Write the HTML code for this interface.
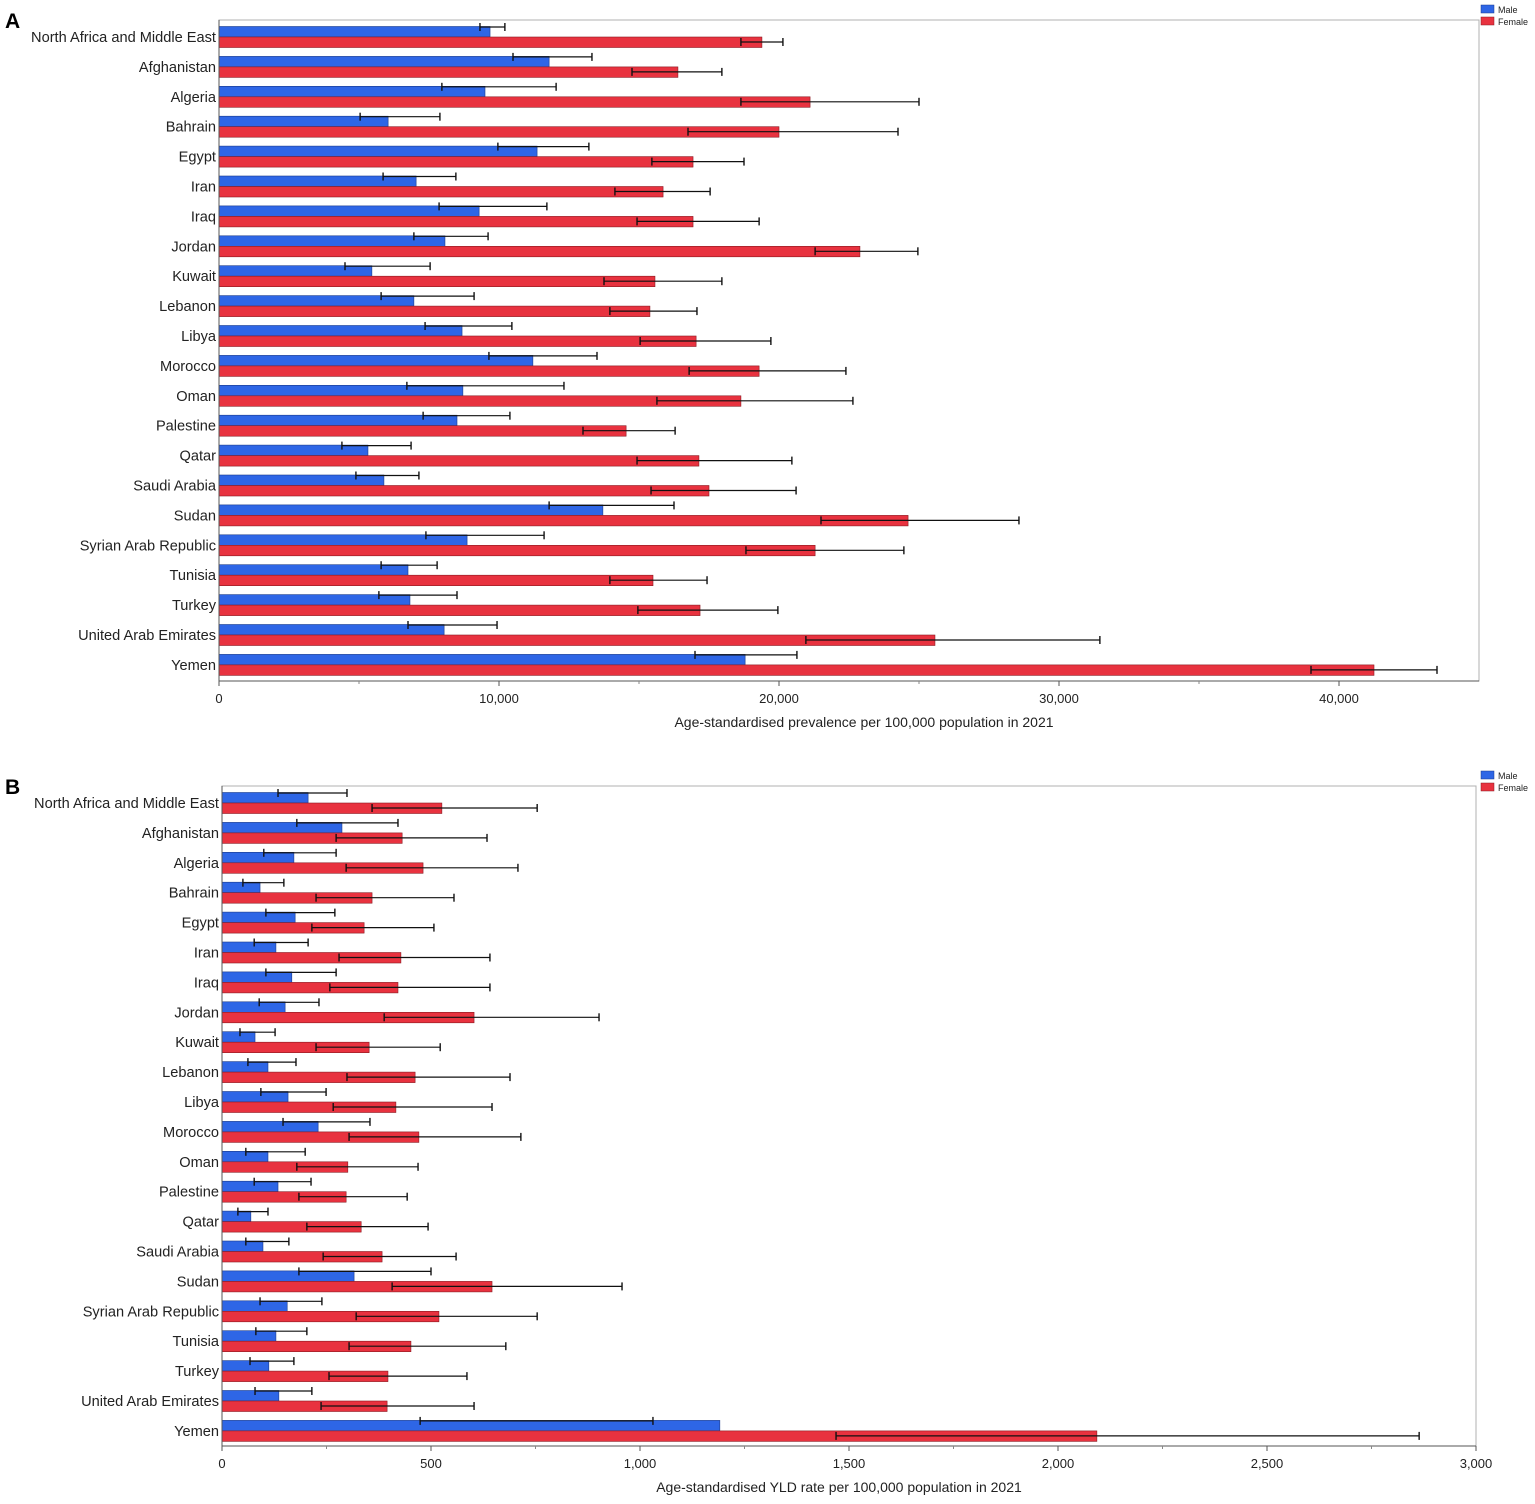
<!DOCTYPE html>
<html><head><meta charset="utf-8"><style>
body{margin:0;background:#fff;font-family:"Liberation Sans",Arial,sans-serif}
svg{display:block}
</style></head><body>
<svg id="chart" width="1535" height="1504" xmlns="http://www.w3.org/2000/svg"></svg>
<script>
const categories=["North Africa and Middle East","Afghanistan","Algeria","Bahrain","Egypt","Iran","Iraq","Jordan","Kuwait","Lebanon","Libya","Morocco","Oman","Palestine","Qatar","Saudi Arabia","Sudan","Syrian Arab Republic","Tunisia","Turkey","United Arab Emirates","Yemen"];
const prevMale=[9680,11790,9500,6040,11360,7040,9290,8070,5460,6960,8680,11210,8710,8500,5320,5890,13710,8860,6750,6820,8040,18790];
const prevMaleLo=[9320,10500,7960,5040,9960,5860,7860,6960,4500,5790,7360,9640,6710,7290,4390,4890,11790,7390,5790,5710,6750,17000];
const prevMaleHi=[10210,13320,12040,7890,13210,8460,11710,9610,7540,9110,10460,13500,12320,10390,6860,7140,16250,11610,7790,8500,9930,20640];
const prevFemale=[19390,16390,21110,20000,16930,15860,16930,22890,15570,15390,17040,19290,18640,14540,17140,17500,24610,21290,15500,17180,25570,41250];
const prevFemaleLo=[18640,14750,18640,16750,15460,14140,14930,21290,13750,13960,15040,16790,15640,13000,14930,15430,21500,18820,13960,14960,20960,39000];
const prevFemaleHi=[20140,17960,25000,24250,18750,17540,19290,24960,17960,17070,19710,22390,22640,16290,20460,20610,28570,24460,17430,19960,31460,43500];
const prevTicks=[0,10000,20000,30000,40000];
const yldMale=[206,287,172,91,175,129,167,151,79,110,158,230,110,134,69,98,316,156,129,112,136,1191];
const yldMaleLo=[134,179,100,50,105,77,105,89,43,62,93,146,57,77,38,57,184,91,81,67,79,474];
const yldMaleHi=[299,421,273,148,270,206,273,232,127,177,249,354,199,213,110,160,500,239,203,172,215,1031];
const yldFemale=[526,431,481,359,340,428,421,603,352,462,416,471,301,297,333,383,646,519,452,397,395,2093];
const yldFemaleLo=[359,273,297,225,215,280,258,388,225,299,266,304,179,184,203,242,407,321,304,256,237,1469];
const yldFemaleHi=[754,634,708,555,507,641,641,902,522,689,646,715,469,443,493,560,957,754,679,586,603,2864];
const yldTicks=[0,500,1000,1500,2000,2500,3000];

const svg=document.getElementById('chart');
const NS='http://www.w3.org/2000/svg';
function mk(tag,attrs,parent,text){const e=document.createElementNS(NS,tag);for(const k in attrs)e.setAttribute(k,attrs[k]);if(text!==undefined)e.textContent=text;parent.appendChild(e);return e;}
function fmt(v){return v.toLocaleString('en-US');}

function panel(cfg){
  const g=mk('g',{},svg);
  
  
  const x=v=>cfg.x0+(v/cfg.max)*(cfg.x1-cfg.x0);
  const rowY=i=>cfg.firstY+i*cfg.step;
  const frame=mk('rect',{x:cfg.x0,y:cfg.y0,width:cfg.x1-cfg.x0,height:cfg.y1-cfg.y0,fill:'none',stroke:'#b0b0b0','stroke-width':1},g);
  
  const lab=mk('text',{x:5,y:cfg.y0+8,'font-size':21,'font-weight':'bold',fill:'#000'},g,cfg.letter);
  
  function errbar(lo,hi,y,gp){
    mk('line',{x1:x(lo),x2:x(hi),y1:y,y2:y,stroke:'#111','stroke-width':1.2},gp);
    mk('line',{x1:x(lo),x2:x(lo),y1:y-4,y2:y+4,stroke:'#111','stroke-width':1.4},gp);
    mk('line',{x1:x(hi),x2:x(hi),y1:y-4,y2:y+4,stroke:'#111','stroke-width':1.4},gp);
  }
  categories.forEach((c,i)=>{
    const cy=rowY(i);
    const t=mk('text',{x:cfg.x0-3,y:cy+5,'text-anchor':'end','font-size':14.6,fill:'#222'},g,c);
    
    const bm=mk('rect',{x:x(0),y:cy-10.5,width:x(cfg.m[i])-x(0),height:10.5,fill:'#2e66e6',stroke:'#1a3a8a','stroke-width':0.6},g);
    
    const bf=mk('rect',{x:x(0),y:cy,width:x(cfg.f[i])-x(0),height:10.5,fill:'#e8323f',stroke:'#8a1a22','stroke-width':0.6},g);
    
    const eg=mk('g',{},g);
    
    errbar(cfg.mlo[i],cfg.mhi[i],cy-10,eg);
    errbar(cfg.flo[i],cfg.fhi[i],cy+5,eg);
  });
  mk('line',{x1:cfg.x0,x2:cfg.x0,y1:cfg.y0,y2:cfg.y1,stroke:'#555','stroke-width':1},g);
  mk('line',{x1:cfg.x0,x2:cfg.x1,y1:cfg.y1,y2:cfg.y1,stroke:'#555','stroke-width':1},g);
  cfg.ticks.forEach(v=>{
    mk('line',{x1:x(v),x2:x(v),y1:cfg.y1,y2:cfg.y1+5,stroke:'#555'},g);
    const t=mk('text',{x:x(v),y:cfg.y1+22,'text-anchor':'middle','font-size':13,fill:'#222'},g,fmt(v));
    
  });
  for(let k=0;k<cfg.ticks.length-1;k++){const v=(cfg.ticks[k]+cfg.ticks[k+1])/2;mk('line',{x1:x(v),x2:x(v),y1:cfg.y1,y2:cfg.y1+3,stroke:'#888'},g);}
  const at=mk('text',{x:(cfg.x0+cfg.x1)/2+(cfg.letter==='A'?15:-10),y:cfg.y1+46,'text-anchor':'middle','font-size':14,fill:'#222'},g,cfg.title);
  
  const lg=mk('g',{},g);
  
  const ly=cfg.y0-15;
  const s1=mk('rect',{x:1481,y:ly,width:13,height:8,fill:'#2e66e6',stroke:'#1a3a8a','stroke-width':0.5},lg);
  
  mk('text',{x:1498,y:ly+8,'font-size':9,fill:'#222'},lg,'Male');
  const s2=mk('rect',{x:1481,y:ly+12,width:13,height:8,fill:'#e8323f',stroke:'#8a1a22','stroke-width':0.5},lg);
  
  mk('text',{x:1498,y:ly+20,'font-size':9,fill:'#222'},lg,'Female');
}
panel({name:'panel-a-prevalence',letter:'A',x0:219,x1:1479,y0:20,y1:681,max:45000,firstY:37,step:29.9,
  m:prevMale,mlo:prevMaleLo,mhi:prevMaleHi,f:prevFemale,flo:prevFemaleLo,fhi:prevFemaleHi,ticks:prevTicks,
  title:'Age-standardised prevalence per 100,000 population in 2021'});
panel({name:'panel-b-yld',letter:'B',x0:222,x1:1476,y0:786,y1:1446,max:3000,firstY:803,step:29.9,
  m:yldMale,mlo:yldMaleLo,mhi:yldMaleHi,f:yldFemale,flo:yldFemaleLo,fhi:yldFemaleHi,ticks:yldTicks,
  title:'Age-standardised YLD rate per 100,000 population in 2021'});
</script>
</body></html>
